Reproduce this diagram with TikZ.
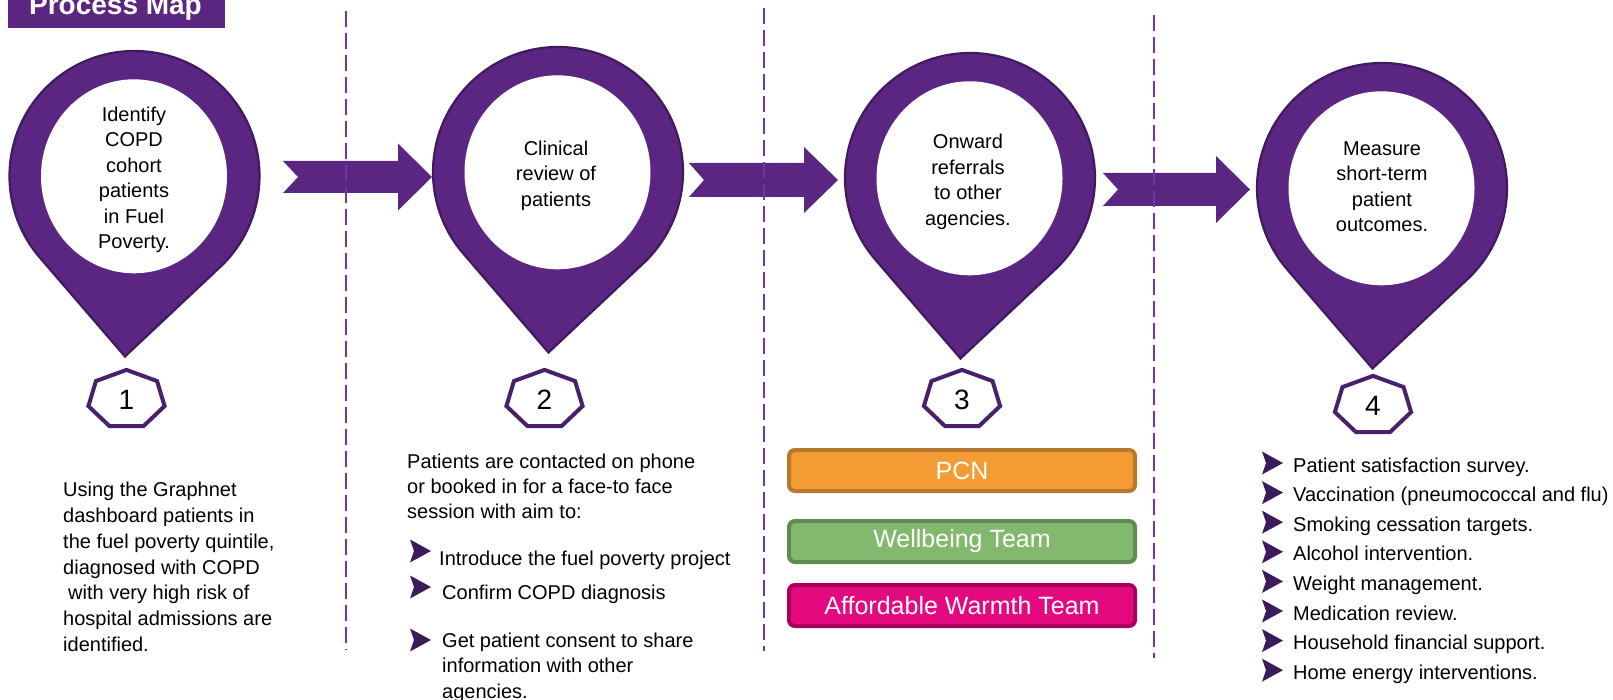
\documentclass[tikz,border=0pt]{standalone}
\usepackage{fontspec}
\setmainfont{Liberation Sans}
\usetikzlibrary{positioning}

\definecolor{pinpurple}{HTML}{5B2682}
\definecolor{pinedge}{HTML}{3F1A60}
\definecolor{heptedge}{HTML}{48206C}
\definecolor{dashpurple}{HTML}{7035A6}
\definecolor{bulletpurple}{HTML}{3D1A5C}
\definecolor{pcnfill}{HTML}{F39C33}
\definecolor{pcnedge}{HTML}{B7772C}
\definecolor{wellfill}{HTML}{82B96F}
\definecolor{welledge}{HTML}{5F8B50}
\definecolor{warmfill}{HTML}{E4097F}
\definecolor{warmedge}{HTML}{A8005C}

\tikzset{
  pinbody/.style={fill=pinpurple, draw=pinedge, line width=2.2pt},
  pinhole/.style={fill=white},
  pintext/.style={align=center, inner sep=0pt, font=\fontsize{20}{25.5}\selectfont},
  hept/.style={draw=heptedge, line width=4pt, fill=white, line join=miter},
  steptext/.style={inner sep=0pt, font=\fontsize{28}{30}\selectfont},
  flowarrow/.style={fill=pinpurple},
  divider/.style={draw=dashpurple, line width=2pt, dash pattern=on 16pt off 6pt},
  bodytext/.style={align=left, inner sep=0pt, font=\fontsize{20}{25.8}\selectfont},
  itemtext/.style={anchor=base west, inner sep=0pt, font=\fontsize{20}{24}\selectfont},
  agency/.style={rounded corners=6pt, line width=4pt, minimum width=346pt,
    minimum height=41pt, text=white, font=\fontsize{25}{28}\selectfont},
  titletext/.style={anchor=base, inner sep=0pt, text=white, font=\fontsize{28}{30}\selectfont\bfseries},
}
\newcommand{\itemarrow}[1]{\fill[bulletpurple] (#1) ++(11,0) -- ++(-21,-11.5) -- ++(4,11.5) -- ++(-4,11.5) -- cycle;}

\begin{document}
\begin{tikzpicture}[x=1pt, y=-1pt]
  \useasboundingbox (0,0) rectangle (1613,700);

  % title
  \fill[pinpurple] (8,-20) rectangle (225,28);
  \node[titletext] (title) at (115.5,15) {Process Map};

  % pins
  \foreach \cx/\cy in {134.5/176, 558/172, 970/178, 1382/188} {
    \draw[pinbody] (\cx,\cy) ++(139.3:125) arc[start angle=139.3, end angle=406.7, radius=125]
      -- (\cx-9.5,\cy+180.5) -- cycle;
    \fill[pinhole] (\cx-0.5,\cy+0.3) ellipse[x radius=93, y radius=97];
  }
  \node[pintext] (pin1) at (134,180) {Identify\\COPD\\cohort\\patients\\in Fuel\\Poverty.};
  \node[pintext] (pin2) at (556,175.5) {Clinical\\review of\\patients};
  \node[pintext] (pin3) at (968,182) {Onward\\referrals\\to other\\agencies.};
  \node[pintext] (pin4) at (1382,186.5) {Measure\\short-term\\patient\\outcomes.};

  % arrows between the pins
  \foreach \tx/\hx/\ay/\bh/\hh in {283/432/177/16/33.5, 689/838/180/17/33, 1103/1250/189.5/16.5/33.5} {
    \fill[flowarrow] (\tx,\ay-\bh) -- (\hx-34,\ay-\bh) -- (\hx-34,\ay-\hh) -- (\hx,\ay)
      -- (\hx-34,\ay+\hh) -- (\hx-34,\ay+\bh) -- (\tx,\ay+\bh) -- (\tx+15,\ay) -- cycle;
  }

  % dividers
  \foreach \x/\ya/\yb in {346/11/650, 764/8/651, 1154/15/658}
    \draw[divider] (\x,\ya) -- (\x,\yb);

  % step numbers
  \foreach \n/\x/\y in {1/126.5/399.5, 2/544.5/399.5, 3/962/399.5, 4/1373/405.5} {
    \draw[hept, shift={(\x,\y)}, xscale=1.32] (-90:29.6)
      \foreach \k in {1,...,6} { -- (-90+\k*51.4286:29.6) } -- cycle;
    \node[steptext] (step\n) at (\x,\y) {\n};
  }

  % step 1
  \node[bodytext, anchor=north west] (cohort) at (63,482) {Using the Graphnet\\dashboard patients in\\the fuel poverty quintile,\\diagnosed with COPD\\\hspace{5pt}with very high risk of\\hospital admissions are\\identified.};

  % step 2
  \node[bodytext, anchor=north west, font=\fontsize{20}{25}\selectfont] (contact) at (407,454) {Patients are contacted on phone\\or booked in for a face-to face\\session with aim to:};
  \node[itemtext] (aim1) at (439,565) {Introduce the fuel poverty project};
  \node[itemtext] (aim2) at (442,599) {Confirm COPD diagnosis};
  \node[bodytext, anchor=north west, font=\fontsize{20}{25.5}\selectfont] (aim3) at (442,632.5) {Get patient consent to share\\information with other\\agencies.};
  \itemarrow{420,551}
  \itemarrow{420,587}
  \itemarrow{420,640}

  % step 3
  \node[agency, draw=pcnedge, fill=pcnfill] (pcn) at (962,470.5) {PCN};
  \node[agency, draw=welledge, fill=wellfill, below=26pt of pcn] (wellbeing) {Wellbeing Team};
  \node[agency, draw=warmedge, fill=warmfill, below=19pt of wellbeing] (warmth) {Affordable Warmth Team};

  % step 4
  \foreach \i/\txt in {0/Patient satisfaction survey., 1/Vaccination (pneumococcal and flu),
      2/Smoking cessation targets., 3/Alcohol intervention., 4/Weight management.,
      5/Medication review., 6/Household financial support., 7/Home energy interventions.} {
    \node[itemtext] (outcome\i) at (1293,472+29.6*\i) {\txt};
    \itemarrow{1272,463+29.6*\i}
  }
\end{tikzpicture}
\end{document}
